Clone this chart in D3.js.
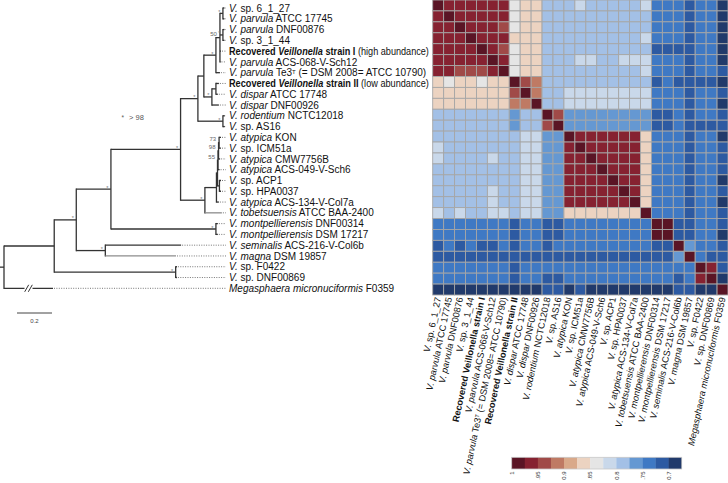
<!DOCTYPE html>
<html><head><meta charset="utf-8">
<script src="https://cdn.jsdelivr.net/npm/d3@7"></script>
<style>body{margin:0;background:#fff}svg{display:block;font-family:"Liberation Sans",Arial,sans-serif}</style>
</head><body><svg id="c" width="728" height="483"></svg>
<script>
// ---------- data ----------
const rowLabels = [
 "<i>V.</i> sp. 6_1_27","<i>V. parvula</i> ATCC 17745","<i>V. parvula</i> DNF00876","<i>V.</i> sp. 3_1_44",
 "<b>Recovered <i>Veillonella</i> strain I</b> (high abundance)","<i>V. parvula</i> ACS-068-V-Sch12",
 "<i>V. parvula</i> Te3<sup>T</sup> (= DSM 2008= ATCC 10790)","<b>Recovered <i>Veillonella</i> strain II</b> (low abundance)",
 "<i>V. dispar</i> ATCC 17748","<i>V. dispar</i> DNF00926","<i>V. rodentium</i> NCTC12018","<i>V.</i> sp. AS16",
 "<i>V. atypica</i> KON","<i>V.</i> sp. ICM51a","<i>V. atypica</i> CMW7756B","<i>V. atypica</i> ACS-049-V-Sch6",
 "<i>V.</i> sp. ACP1","<i>V.</i> sp. HPA0037","<i>V. atypica</i> ACS-134-V-Col7a","<i>V. tobetsuensis</i> ATCC BAA-2400",
 "<i>V. montpellierensis</i> DNF00314","<i>V. montpellierensis</i> DSM 17217","<i>V. seminalis</i> ACS-216-V-Col6b",
 "<i>V. magna</i> DSM 19857","<i>V.</i> sp. F0422","<i>V.</i> sp. DNF00869","<i>Megasphaera micronuciformis</i> F0359"
];
const colLabels = rowLabels.map((l,i)=> i===4 ? "<b>Recovered Veillonella strain I</b>" : i===7 ? "<b>Recovered Veillonella strain II</b>" : l);

// tree (newick, branch lengths in substitutions/site, internal labels = bootstrap support)
const treeNewick = "((((((((((0:0.009,1:0.009)99:0.017,(2:0.009,3:0.009)99:0.017,4:0.006,5:0.003)50:0.023,6:0.023)99:0.069,((7:0.017,8:0.011):0.023,9:0.040)99:0.046):0.034,(10:0.011,11:0.011)99:0.143)99:0.099,((((((12:0.011,13:0.011)73:0.003,14:0.009)98:0.003,15:0.009)55:0.003,(16:0.009,17:0.009):0.011):0.006,18:0.014):0.066,19:0.097)99:0.139)99:0.398,(20:0.011,21:0.011)99:0.600)99:0.198,(22:0.433,23:0.404)99:0.166)99:0.126,(24:0.007,25:0.007)99:0.694):0.287,26:0.28);";
const grayBranches = [19, 23];
const brokenBranch = 26;

// pairwise identity matrix (rows/cols in tree order)
const identity = [
 [1,.96,.96,.96,.96,.96,.96,.84,.86,.86,.79,.79,.79,.81,.79,.79,.79,.79,.79,.81,.74,.74,.74,.71,.74,.74,.69],
 [.96,1,.96,.96,.96,.96,.96,.84,.86,.86,.79,.79,.79,.79,.79,.79,.79,.79,.79,.79,.74,.74,.74,.71,.74,.74,.69],
 [.96,.96,1,.96,.96,.96,.94,.84,.86,.86,.79,.79,.79,.79,.79,.79,.79,.79,.79,.79,.74,.74,.74,.71,.74,.74,.69],
 [.96,.96,.96,1,.96,.96,.96,.86,.86,.86,.79,.79,.79,.79,.79,.79,.79,.79,.79,.81,.74,.74,.74,.71,.74,.74,.69],
 [.96,.96,.96,.96,1,.96,.94,.84,.86,.86,.79,.79,.79,.79,.79,.79,.79,.79,.79,.79,.71,.71,.71,.71,.74,.74,.69],
 [.96,.96,.96,.96,.96,1,.96,.84,.86,.86,.79,.79,.79,.81,.81,.79,.79,.81,.81,.81,.74,.74,.74,.71,.74,.74,.69],
 [.96,.96,.94,.94,.94,.96,1,.84,.86,.86,.79,.79,.79,.79,.79,.79,.79,.79,.79,.81,.74,.74,.74,.71,.74,.74,.71],
 [.86,.84,.86,.86,.84,.86,.86,1,.94,.91,.79,.79,.79,.79,.79,.79,.79,.79,.79,.79,.71,.74,.71,.71,.71,.71,.69],
 [.86,.86,.86,.86,.86,.86,.86,.94,1,.91,.79,.79,.81,.81,.81,.81,.81,.81,.81,.81,.74,.74,.74,.71,.74,.74,.71],
 [.86,.86,.86,.86,.86,.86,.86,.91,.91,1,.79,.79,.81,.81,.81,.81,.81,.81,.81,.81,.74,.74,.74,.71,.74,.74,.69],
 [.79,.79,.79,.79,.79,.79,.79,.76,.79,.79,1,.94,.76,.76,.76,.76,.76,.76,.76,.76,.71,.71,.74,.71,.74,.74,.71],
 [.79,.79,.79,.79,.79,.79,.79,.76,.79,.79,.94,1,.76,.76,.76,.76,.76,.76,.76,.76,.71,.71,.74,.71,.71,.71,.71],
 [.79,.79,.79,.79,.79,.79,.79,.79,.81,.81,.76,.76,1,.96,.96,.96,.96,.96,.96,.86,.74,.74,.74,.71,.74,.74,.69],
 [.81,.79,.79,.79,.79,.79,.79,.79,.81,.81,.76,.76,.96,1,.96,.96,.96,.96,.96,.86,.74,.74,.74,.71,.74,.74,.71],
 [.81,.79,.79,.79,.79,.81,.79,.79,.81,.81,.76,.76,.96,.96,1,.96,.96,.96,.96,.86,.74,.74,.74,.71,.74,.74,.71],
 [.79,.79,.79,.79,.79,.79,.79,.79,.81,.81,.76,.76,.96,.96,.96,1,.96,.96,.96,.86,.74,.74,.74,.71,.74,.74,.71],
 [.79,.79,.79,.79,.79,.79,.79,.79,.81,.81,.76,.76,.96,.96,.96,.96,1,.96,.96,.86,.74,.74,.74,.71,.74,.74,.69],
 [.79,.79,.79,.79,.79,.81,.79,.79,.81,.81,.76,.76,.96,.96,.96,.96,.96,1,.96,.86,.74,.74,.74,.71,.74,.74,.71],
 [.79,.79,.79,.79,.79,.81,.79,.79,.81,.81,.76,.76,.96,.96,.96,.96,.96,.96,1,.86,.74,.74,.74,.71,.74,.74,.69],
 [.81,.79,.81,.79,.79,.81,.81,.79,.81,.81,.76,.76,.86,.86,.86,.86,.86,.86,.86,1,.74,.74,.74,.71,.74,.74,.71],
 [.74,.74,.74,.74,.74,.74,.74,.71,.74,.74,.71,.71,.74,.74,.74,.74,.74,.74,.74,.74,1,.99,.71,.71,.74,.74,.71],
 [.74,.74,.74,.74,.74,.74,.74,.71,.74,.74,.71,.71,.74,.74,.74,.74,.74,.74,.74,.74,.99,1,.71,.71,.74,.74,.69],
 [.71,.74,.71,.74,.71,.71,.74,.71,.74,.74,.71,.74,.74,.74,.74,.74,.74,.74,.74,.74,.71,.71,1,.76,.74,.74,.71],
 [.71,.71,.71,.71,.71,.71,.71,.71,.71,.71,.71,.71,.71,.71,.71,.71,.71,.71,.71,.71,.71,.71,.76,1,.74,.71,.71],
 [.74,.74,.74,.74,.74,.74,.74,.71,.74,.74,.74,.74,.74,.74,.74,.74,.74,.74,.74,.74,.74,.74,.74,.74,1,.96,.71],
 [.74,.74,.74,.74,.74,.74,.74,.71,.74,.74,.71,.71,.74,.74,.74,.74,.74,.74,.74,.74,.74,.74,.71,.74,.96,1,.69],
 [.69,.69,.69,.69,.69,.69,.69,.69,.69,.69,.71,.71,.69,.71,.69,.69,.69,.69,.69,.69,.69,.69,.71,.71,.69,.69,1]
];

// colour key: from 1 (left) to 0.675 (right)
const palette = ["#5a1525","#862231","#a04a48","#bf7a64","#d9a98a","#ecd3c1","#e5e5e5","#c9d8ea","#a3c0e6","#6598d2","#3f79c4","#2d5aa2","#213a6b"];
const legendDomain = [0.675, 1];
const legendTicks = [1, .95, .9, .85, .8, .75, .7];
const legendTickLabels = ["1", ".95", "0.9", ".85", "0.8", ".75", "0.7"];
const scaleBarValue = 0.2;
const scaleBarLabel = "0.2";

// ---------- helpers ----------
function parseNewick(s){
  let i=0;
  function node(){
    const n={};
    if(s[i]==='('){
      n.children=[]; i++;
      n.children.push(node());
      while(s[i]===','){i++; n.children.push(node());}
      i++;
    }
    let name='';
    while(i<s.length && !':,);'.includes(s[i])) name+=s[i++];
    n.name=name;
    if(s[i]===':'){i++; let l=''; while(i<s.length && !',);'.includes(s[i])) l+=s[i++]; n.length=+l;}
    return n;
  }
  return node();
}
function richText(sel, str){
  const parts = str.split(/(<\/?(?:i|b|sup)>)/);
  let it=false,b=false,sup=false,shifted=false;
  parts.forEach(p=>{
    if(p==='<i>')it=true; else if(p==='</i>')it=false;
    else if(p==='<b>')b=true; else if(p==='</b>')b=false;
    else if(p==='<sup>')sup=true; else if(p==='</sup>')sup=false;
    else if(p){
      const t=sel.append('tspan').text(p);
      if(it)t.attr('font-style','italic');
      if(b)t.attr('font-weight','bold');
      if(sup){t.attr('font-size','0.6em').attr('dy','-0.45em'); shifted=true;}
      else if(shifted){t.attr('dy','0.27em'); shifted=false;}
    }
  });
}

// ---------- drawing ----------
const svg = d3.select('#c');
const n = identity.length;
const hx = d3.scaleBand().domain(d3.range(n)).range([432.7,728]);
const hy = d3.scaleBand().domain(d3.range(n)).range([0,295]);

// tree
const root = d3.hierarchy(parseNewick(treeNewick));
root.eachBefore(d=>{ d.dist = d.parent ? d.parent.dist + (d.data.length||0) : 0; });
const tx = d3.scaleLinear().domain([0,1]).range([4,179]);
const ty = d3.scaleLinear().domain([0,26]).range([8,288.3]);
root.eachAfter(d=>{
  if(d.children){ d.y = (d.children[0].y + d.children[d.children.length-1].y)/2; }
  else d.y = ty(+d.data.name);
  d.x = tx(d.dist);
});
const gT = svg.append('g');
const lineCol = '#333';
const lw = 1.3;
gT.append('line').attr('x1',0).attr('x2',root.x).attr('y1',root.y).attr('y2',root.y).attr('stroke',lineCol).attr('stroke-width',lw);
root.descendants().forEach(d=>{
  if(d.children){
    gT.append('line').attr('x1',d.x).attr('x2',d.x)
      .attr('y1',d.children[0].y-0.6).attr('y2',d.children[d.children.length-1].y+0.6)
      .attr('stroke',lineCol).attr('stroke-width',lw);
  }
  if(d.parent){
    const gray = !d.children && grayBranches.includes(+d.data.name);
    gT.append('line').attr('x1',d.parent.x).attr('x2',d.x).attr('y1',d.y).attr('y2',d.y)
      .attr('stroke', gray ? '#8c8c8c' : lineCol).attr('stroke-width',lw);
  }
});
// broken branch marks
const leaves = root.leaves();
leaves.filter(d=>+d.data.name===brokenBranch).forEach(d=>{
  const mx = (d.parent.x + d.x)/2;
  gT.append('rect').attr('x',mx-4).attr('y',d.y-2).attr('width',8).attr('height',4).attr('fill','#fff');
  [-1.8,1.8].forEach(o=>{
    gT.append('line').attr('x1',mx+o-2).attr('x2',mx+o+2).attr('y1',d.y+3.5).attr('y2',d.y-3.5)
      .attr('stroke',lineCol).attr('stroke-width',1);
  });
});
// leaders
const labelX = 229;
leaves.forEach(d=>{
  gT.append('line').attr('x1',d.x+1).attr('x2',labelX-3).attr('y1',d.y).attr('y2',d.y)
    .attr('stroke','#666').attr('stroke-width',0.9).attr('stroke-dasharray','1,1.4');
});
// support values
root.descendants().filter(d=>d.children && d.data.name!=='' && d.parent).forEach(d=>{
  const v = +d.data.name;
  if(v>98){
    gT.append('text').attr('x',d.x-2.5).attr('y',d.y+0.5).attr('text-anchor','end')
      .attr('font-size',5.5).attr('fill','#777').text('*');
  } else {
    gT.append('text').attr('x',d.x-3).attr('y',d.y-1.5).attr('text-anchor','end')
      .attr('font-size',6).attr('fill','#666').text(v);
  }
});
// leaf labels (squeezed horizontally if wider than the space before the heatmap)
const avail = hx.range()[0] - labelX - 3.5;
leaves.forEach(d=>{
  const t = gT.append('text').attr('transform',`translate(${labelX},${d.y+3.6})`).attr('font-size',10).attr('fill','#111');
  richText(t, rowLabels[+d.data.name]);
  const len = t.node().getComputedTextLength();
  if(len > avail) t.attr('transform',`translate(${labelX},${d.y+3.6}) scale(${avail/len},1)`);
});
// support legend
svg.append('text').attr('x',124).attr('y',120).attr('text-anchor','end').attr('font-size',6.5).attr('fill','#555').text('*');
svg.append('text').attr('x',129).attr('y',119.5).attr('font-size',7.5).attr('fill','#555').text('> 98');
// scale bar
svg.append('line').attr('x1',tx(0)+13).attr('x2',tx(scaleBarValue)+13).attr('y1',313).attr('y2',313).attr('stroke','#444').attr('stroke-width',1);
svg.append('text').attr('x',(tx(0)+tx(scaleBarValue))/2+13).attr('y',323).attr('text-anchor','middle').attr('font-size',6).attr('fill','#444').text(scaleBarLabel);

// heatmap
const color = d3.scaleQuantize().domain(legendDomain).range(palette.slice().reverse());
const gH = svg.append('g');
identity.forEach((row,i)=>row.forEach((v,j)=>{
  gH.append('rect').attr('x',hx(j)).attr('y',hy(i)).attr('width',hx.bandwidth()).attr('height',hy.bandwidth())
    .attr('fill',color(v)).attr('stroke','#a6a6a6').attr('stroke-width',0.9);
}));
// column labels
colLabels.forEach((l,j)=>{
  const cx = hx(j)+hx.bandwidth()/2 + 3;
  const t = svg.append('text').attr('transform',`translate(${cx},298) rotate(-78)`)
    .attr('text-anchor','end').attr('font-size',9.2).attr('fill','#111');
  richText(t,l);
});

// colour key
const lx = d3.scaleLinear().domain([1,0.675]).range([511.7,681.7]);
const gL = svg.append('g');
palette.forEach(c=>{
  const [a,b] = color.invertExtent(c);
  gL.append('rect').attr('x',lx(b)).attr('y',457.3).attr('width',lx(a)-lx(b)+0.3).attr('height',11.7).attr('fill',c);
});
gL.append('rect').attr('x',lx(1)).attr('y',457.3).attr('width',lx(0.675)-lx(1)).attr('height',11.7)
  .attr('fill','none').attr('stroke','#c8c8c8').attr('stroke-width',0.8);
legendTicks.forEach((v,k)=>{
  gL.append('text').attr('transform',`translate(${lx(v)+2.3},471.5) rotate(-90)`).attr('text-anchor','end')
    .attr('font-size',6).attr('fill','#333').text(legendTickLabels[k]);
});
</script></body></html>
